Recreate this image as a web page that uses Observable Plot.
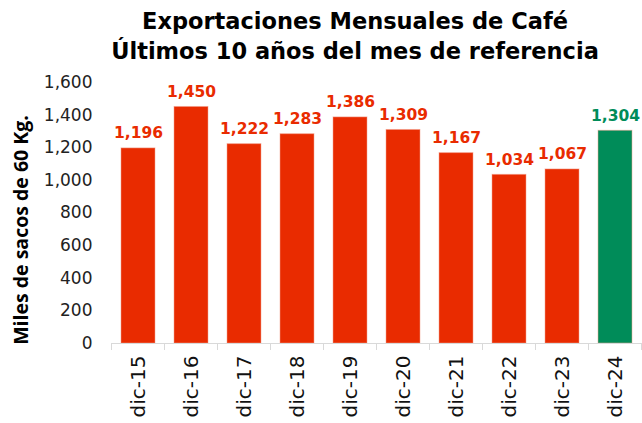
<!DOCTYPE html>
<html>
<head>
<meta charset="utf-8">
<script src="https://cdn.jsdelivr.net/npm/d3@7"></script>
<script src="https://cdn.jsdelivr.net/npm/@observablehq/plot@0.6"></script>
<style>
  body { margin: 0; background: #fff; font-family: "DejaVu Sans", sans-serif; }
  #title { width: 642px; height: 70px; box-sizing: border-box; padding-top: 6px; padding-left: 68px;
           text-align: center; font-weight: bold; font-size: 22.5px; line-height: 30px; color: #000; }
  #chart svg { overflow: visible; }
</style>
</head>
<body>
<div id="title">Exportaciones Mensuales de Café<br>Últimos 10 años del mes de referencia</div>
<div id="chart"></div>
<script>
const categories = ["dic-15","dic-16","dic-17","dic-18","dic-19","dic-20","dic-21","dic-22","dic-23","dic-24"];
const values = [1196, 1450, 1222, 1283, 1386, 1309, 1167, 1034, 1067, 1304];
const highlight = ["dic-24"];
const yTicks = [0, 200, 400, 600, 800, 1000, 1200, 1400, 1600];
const yLabel = "Miles de sacos de 60 Kg.";
const RED = "#E92B00", GREEN = "#008C59";

const data = categories.map((c, i) => ({cat: c, value: values[i], color: highlight.includes(c) ? GREEN : RED}));
const fmt = d3.format(",");

const boundaryTicks = (index, scales, values, dims) => {
  const x = scales.x;
  const bw = x.bandwidth();
  const step = x.step();
  const y0 = scales.y(0);
  const g = d3.create("svg:g").attr("stroke", "#d9d9d9").attr("stroke-width", 1);
  const xs = categories.map(c => x(c) - (step - bw) / 2);
  xs.push(x(categories[categories.length - 1]) + bw + (step - bw) / 2);
  for (const px of xs) {
    g.append("line").attr("x1", px).attr("x2", px).attr("y1", y0).attr("y2", y0 + 7);
  }
  g.append("line").attr("x1", xs[0]).attr("x2", xs[xs.length - 1]).attr("y1", y0 + 0.5).attr("y2", y0 + 0.5);
  return g.node();
};

const plot = Plot.plot({
  width: 642,
  height: 353,
  marginTop: 12,
  marginBottom: 80,
  marginLeft: 110,
  marginRight: 0,
  style: {fontFamily: "DejaVu Sans, sans-serif", background: "#fff", overflow: "visible"},
  x: {domain: categories, paddingInner: 0.36, paddingOuter: 0.18},
  y: {domain: [0, 1600], ticks: yTicks, tickFormat: fmt},
  marks: [
    Plot.barY(data, {x: "cat", y: "value", fill: "color", stroke: "#f4a08c", strokeOpacity: 0.5, strokeWidth: 1}),
    boundaryTicks,
    Plot.text(data, {x: "cat", y: "value", text: d => fmt(d.value), fill: "color", dy: -15,
      fontSize: 15.5, fontWeight: "bold"}),
    Plot.axisY({ticks: yTicks, tickFormat: fmt, tickSize: 0, tickPadding: 18, fontSize: 17, label: null, fill: "#222"}),
    Plot.axisX({tickSize: 0, tickRotate: -90, tickPadding: 12, fontSize: 20, label: null, fill: "#111"}),
    Plot.text([yLabel], {frameAnchor: "left", textAnchor: "middle", dx: -89, dy: 17, rotate: -90, fontSize: 19.5,
      fontWeight: "bold", fill: "#000", fontFamily: "Open Sans, sans-serif"})
  ]
});
document.getElementById("chart").appendChild(plot);
</script>
</body>
</html>
